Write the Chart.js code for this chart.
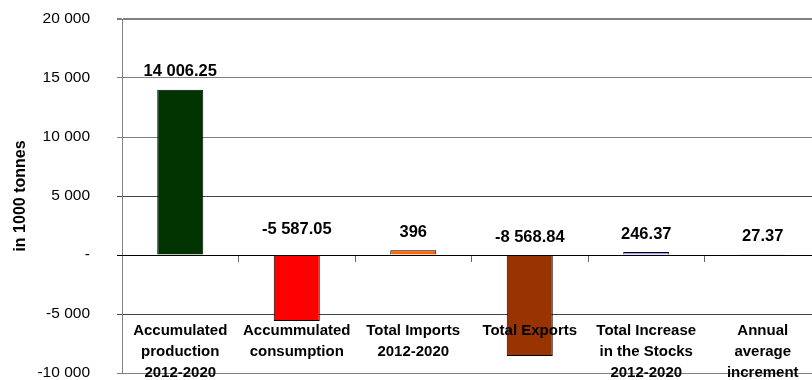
<!DOCTYPE html>
<html>
<head>
<meta charset="utf-8">
<script src="https://cdn.jsdelivr.net/npm/chart.js@4.4.1/dist/chart.umd.min.js"></script>
<style>
  html, body { margin: 0; padding: 0; background: #fff; overflow: hidden; }
  #wrap { width: 830px; height: 380px; }
</style>
</head>
<body>
<div id="wrap"><canvas id="balanceChart"></canvas></div>
<script>
// data
const categories = [
    ['Accumulated', 'production', '2012-2020'],
    ['Accummulated', 'consumption'],
    ['Total Imports', '2012-2020'],
    ['Total Exports'],
    ['Total Increase', 'in the Stocks', '2012-2020'],
    ['Annual', 'average', 'increment']
];
const values = [14006.25, -5587.05, 396, -8568.84, 246.37, 27.37];
const barColors = ['#003300', '#FF0000', '#FF6600', '#993300', '#9999FF', '#FFFF99'];
const yTicks = { min: -10000, max: 20000, step: 5000 };

const FONT = "'Liberation Sans', Arial, sans-serif";

// "14006.25" -> "14 006.25"
function spaced(v) {
    const parts = String(v).split('.');
    parts[0] = parts[0].replace(/\B(?=(\d{3})+(?!\d))/g, ' ');
    return parts.join('.');
}

// value labels above the bar (or above the zero line for negatives)
const labelLift = [18, 26, 18, 18, 18, 18];
const valueLabels = {
    id: 'valueLabels',
    afterDatasetsDraw(chart) {
        const { ctx, scales: { x, y } } = chart;
        ctx.save();
        ctx.font = 'bold 16.5px ' + FONT;
        ctx.fillStyle = '#000';
        ctx.textAlign = 'center';
        ctx.textBaseline = 'middle';
        values.forEach((v, i) => {
            const px = x.getPixelForValue(i);
            const py = y.getPixelForValue(Math.max(v, 0)) - labelLift[i];
            ctx.fillText(spaced(v), px, py);
        });
        ctx.restore();
    }
};

const gridColor = ctx => {
    const v = ctx.tick ? ctx.tick.value : null;
    if (v === 0) return '#000';
    if (v === 5000 || v === -5000) return '#444';
    return '#808080';
};

new Chart(document.getElementById('balanceChart'), {
    type: 'bar',
    data: {
        labels: categories,
        datasets: [{
            data: values,
            backgroundColor: barColors,
            borderColor: '#000',
            borderWidth: 1,
            barPercentage: 0.395,
            categoryPercentage: 1
        }]
    },
    options: {
        responsive: true,
        maintainAspectRatio: false,
        animation: false,
        layout: { padding: { top: 19, right: 9, bottom: 7, left: 0 } },
        plugins: {
            legend: { display: false },
            tooltip: { enabled: false }
        },
        scales: {
            x: {
                position: { y: 0 },
                afterFit(scale) {
                    scale.paddingLeft = 0;
                    scale.paddingRight = 0;
                },
                grid: {
                    display: true,
                    drawOnChartArea: false,
                    drawTicks: true,
                    tickLength: 6,
                    color: '#666',
                    offset: true
                },
                border: { display: true, color: '#000', width: 1, z: 1 },
                ticks: {
                    z: 1,
                    color: '#000',
                    padding: 59,
                    maxRotation: 0,
                    autoSkip: false,
                    font: { family: FONT, size: 15, weight: 'bold', lineHeight: 1.4 }
                }
            },
            y: {
                min: yTicks.min,
                max: yTicks.max,
                afterFit(scale) {
                    scale.width = 122;
                    scale.paddingTop = 0;
                    scale.paddingBottom = 0;
                },
                afterBuildTicks(scale) {
                    const t = [];
                    for (let v = yTicks.min; v <= yTicks.max; v += yTicks.step) t.push({ value: v });
                    scale.ticks = t;
                },
                grid: {
                    color: gridColor,
                    lineWidth: ctx => (ctx.tick && ctx.tick.value === yTicks.max ? 2 : 1),
                    tickLength: 5,
                    drawTicks: true
                },
                border: { display: true, color: '#808080', width: 1 },
                ticks: {
                    color: '#000',
                    padding: 27,
                    font: { family: FONT, size: 15.5 },
                    callback: v => (v === 0 ? '-' : spaced(v))
                },
                title: {
                    display: true,
                    text: 'in 1000 tonnes',
                    color: '#000',
                    padding: { top: 11, bottom: 0 },
                    font: { family: FONT, size: 16, weight: 'bold' }
                }
            }
        }
    },
    plugins: [valueLabels]
});
</script>
</body>
</html>
